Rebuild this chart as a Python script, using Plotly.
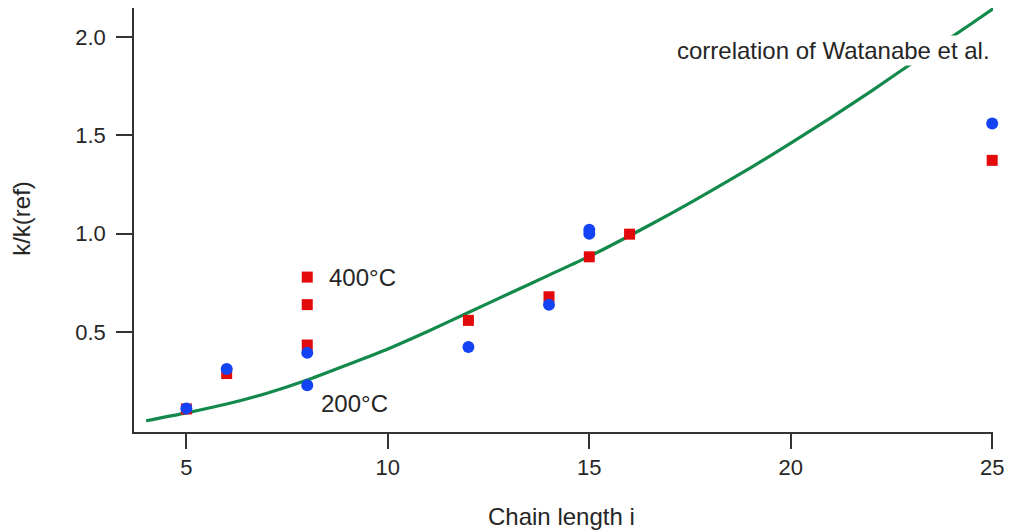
import plotly.graph_objects as go

# Measured data
red_x = [5, 6, 8, 8, 8, 12, 14, 15, 16, 25]
red_y = [0.11, 0.29, 0.78, 0.64, 0.435, 0.56, 0.68, 0.883, 0.998, 1.373]

blue_x = [5, 6, 8, 8, 12, 14, 15, 15, 25]
blue_y = [0.113, 0.313, 0.395, 0.23, 0.425, 0.64, 1.0, 1.02, 1.56]

curve_x = [4, 5, 6, 7, 8, 9, 10, 11, 12, 13, 14, 15, 16, 17, 18, 19, 20, 21, 22, 23, 24, 25, 25.5]
curve_y = [0.05, 0.09, 0.135, 0.19, 0.257, 0.335, 0.415, 0.505, 0.60, 0.695, 0.79, 0.885, 0.99,
           1.10, 1.215, 1.335, 1.46, 1.59, 1.725, 1.865, 2.0, 2.14, 2.21]

x_ticks = [5, 10, 15, 20, 25]
y_ticks = [0.5, 1.0, 1.5, 2.0]
y_tick_labels = ["0.5", "1.0", "1.5", "2.0"]

x_title = "Chain length i"
y_title = "k/k(ref)"

FONT = "Liberation Sans, Arial, sans-serif"
TXT = "#262626"

fig = go.Figure()
fig.add_trace(go.Scatter(x=curve_x, y=curve_y, mode="lines",
                         line=dict(color="#14894c", width=3.2, shape="spline", smoothing=0.6),
                         hoverinfo="skip", showlegend=False))
fig.add_trace(go.Scatter(x=red_x, y=red_y, mode="markers",
                         marker=dict(symbol="square", size=11, color="#e20a0a",
                                     line=dict(width=0)),
                         cliponaxis=False, showlegend=False))
fig.add_trace(go.Scatter(x=blue_x, y=blue_y, mode="markers",
                         marker=dict(symbol="circle", size=12, color="#1443f5",
                                     line=dict(width=0)),
                         cliponaxis=False, showlegend=False))

fig.add_annotation(x=8.5, y=0.78, text="400°C", showarrow=False, xanchor="left",
                   yanchor="middle", font=dict(family=FONT, size=24, color=TXT))
fig.add_annotation(x=8.28, y=0.14, text="200°C", showarrow=False, xanchor="left",
                   yanchor="middle", font=dict(family=FONT, size=24, color=TXT))
fig.add_annotation(x=25.0, y=1.93, text="correlation of Watanabe et al.", showarrow=False,
                   xanchor="right", yanchor="middle", bgcolor="white", borderpad=1,
                   font=dict(family=FONT, size=24, color=TXT))

# axis titles
fig.add_annotation(xref="paper", yref="paper", x=0.498, y=-0.2, text=x_title,
                   showarrow=False, xanchor="center", yanchor="middle",
                   font=dict(family=FONT, size=24, color=TXT))
fig.add_annotation(xref="paper", yref="paper", x=-0.1304, y=0.505, text=y_title,
                   showarrow=False, xanchor="center", yanchor="middle", textangle=-90,
                   font=dict(family=FONT, size=24, color=TXT))

fig.update_layout(
    width=1020, height=532,
    margin=dict(l=126, r=35, t=0, b=108),
    paper_bgcolor="white", plot_bgcolor="white",
    font=dict(family=FONT, size=22, color=TXT),
    xaxis=dict(range=[3.7, 25.02], tickvals=x_ticks, ticks="outside", ticklen=15,
               tickwidth=1.5, tickcolor="#333", showline=True, linecolor="#333",
               linewidth=1.5, showgrid=False, zeroline=False,
               tickfont=dict(family=FONT, size=22, color=TXT)),
    yaxis=dict(range=[-0.007, 2.147], tickvals=y_ticks, ticktext=y_tick_labels,
               ticks="outside", ticklen=16, tickwidth=1.5, tickcolor="#333",
               showline=True, linecolor="#333", linewidth=1.5, showgrid=False,
               zeroline=False, ticklabelstandoff=6,
               tickfont=dict(family=FONT, size=22, color=TXT)),
)

fig.write_html("out.html")
